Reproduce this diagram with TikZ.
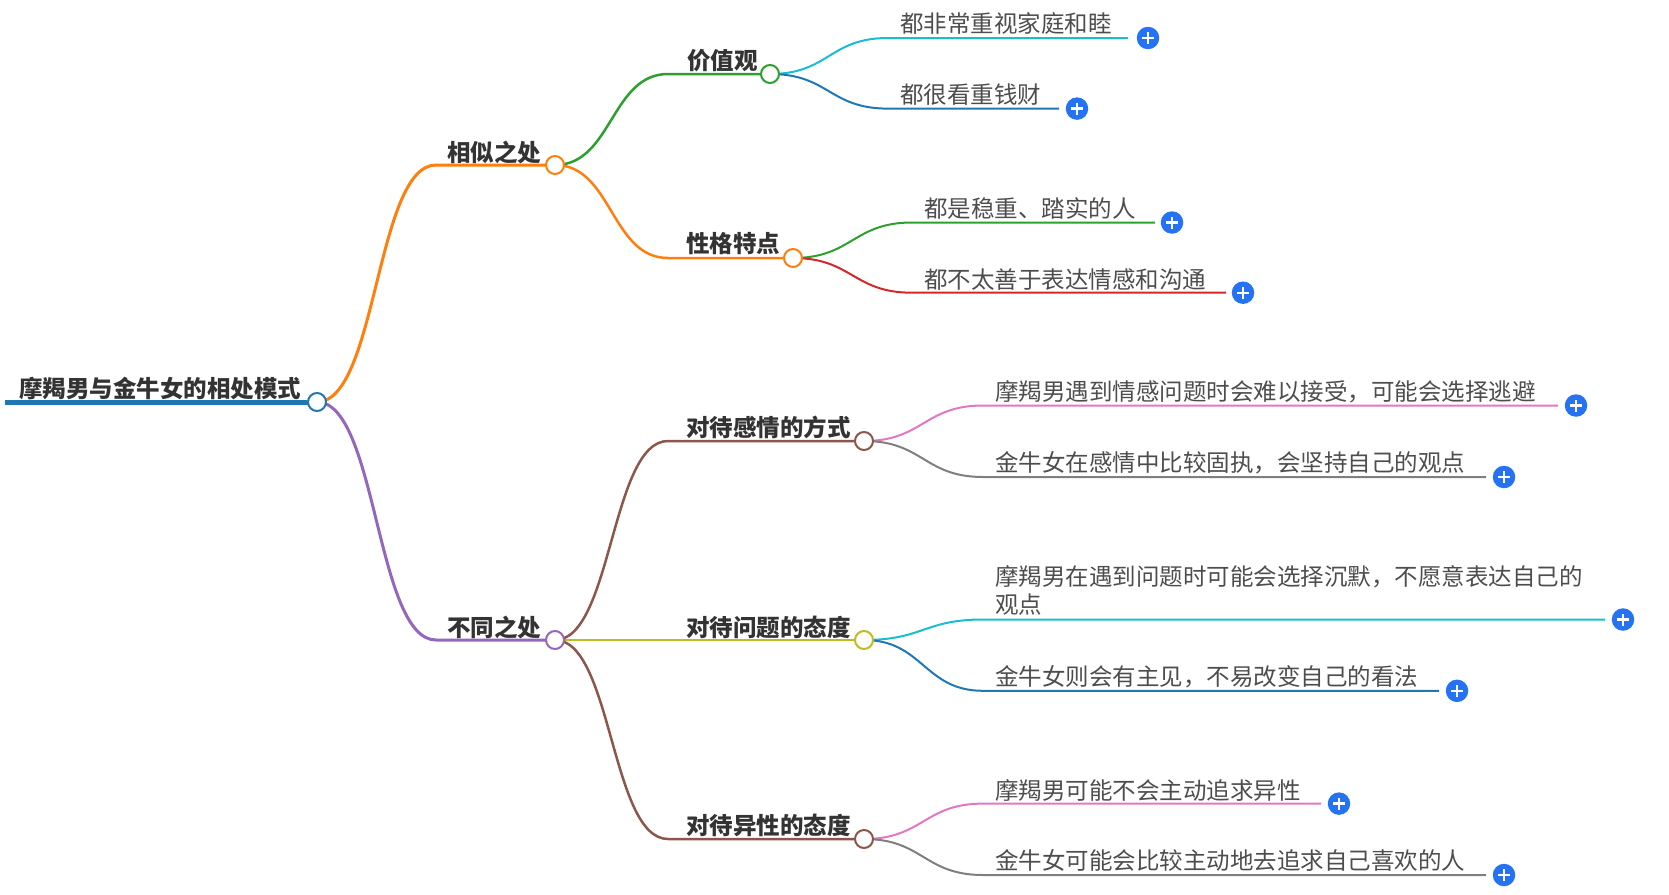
\documentclass[tikz,border=0pt]{standalone}
\usepackage{fontspec}
\setmainfont{Noto Sans CJK SC}
\usetikzlibrary{backgrounds}
\definecolor{tblue}{HTML}{1F77B4}
\definecolor{torange}{HTML}{FF7F0E}
\definecolor{tgreen}{HTML}{2CA02C}
\definecolor{tred}{HTML}{D62728}
\definecolor{tpurple}{HTML}{9467BD}
\definecolor{tbrown}{HTML}{8C564B}
\definecolor{tpink}{HTML}{E377C2}
\definecolor{tgray}{HTML}{7F7F7F}
\definecolor{tolive}{HTML}{BCBD22}
\definecolor{tcyan}{HTML}{17BECF}
\definecolor{plusblue}{HTML}{2573F2}
\definecolor{txtdark}{HTML}{333333}
\definecolor{txtgray}{HTML}{4D4D4D}
\begin{document}
\begin{tikzpicture}[x=1pt,y=-1pt,
  hub/.style={circle, draw=#1, fill=white, line width=2pt, minimum size=18pt, inner sep=0pt},
  tb/.style={anchor=west, inner sep=0pt, font=\fontsize{23.5}{28}\selectfont\bfseries, text=txtdark},
  tl/.style={anchor=west, inner sep=0pt, font=\fontsize{23.5}{28.6}\selectfont, text=txtgray, align=left},
  plusbtn/.style={circle, fill=plusblue, minimum size=22.5pt, inner sep=0pt,
    path picture={
      \draw[white, line width=2.4pt] ([xshift=-6pt]path picture bounding box.center) -- ([xshift=6pt]path picture bounding box.center);
      \draw[white, line width=2.4pt] ([yshift=-6pt]path picture bounding box.center) -- ([yshift=6pt]path picture bounding box.center);}},
  e0/.style={line width=5pt, draw=#1},
  e1/.style={line width=3pt, draw=#1},
  e2/.style={line width=2.5pt, draw=#1},
  e3/.style={line width=2pt, draw=#1},
]
\useasboundingbox (0,0) rectangle (1669,894);

% ---------- hub circles ----------
\node[hub=tblue] (rc) at (317,402) {};
\node[hub=torange] (ac) at (555,165) {};
\node[hub=tpurple] (bc) at (555,640) {};
\node[hub=tgreen] (aac) at (770,74) {};
\node[hub=torange] (abc) at (793,258) {};
\node[hub=tbrown] (bac) at (864,441) {};
\node[hub=tolive] (bbc) at (864,640) {};
\node[hub=tbrown] (bcc) at (864,839) {};

% ---------- root ----------
\coordinate (r0) at (5,402);
\node[tb] (rt) at (19,389) {摩羯男与金牛女的相处模式};

% ---------- level 1 ----------
\coordinate (a0) at (436,165);
\coordinate (b0) at (436,640);
\node[tb] (at) at (447,152) {相似之处};
\node[tb] (bt) at (447,627) {不同之处};

% ---------- level 2 ----------
\coordinate (aa0) at (668,74);
\coordinate (ab0) at (668,258);
\coordinate (ba0) at (668,441);
\coordinate (bc0) at (668,839);
\node[tb] (aat) at (687,61) {价值观};
\node[tb] (abt) at (686,244) {性格特点};
\node[tb] (bat) at (686,427) {对待感情的方式};
\node[tb] (bbt) at (686,627) {对待问题的态度};
\node[tb] (bct) at (686,825) {对待异性的态度};

% ---------- level 3 nodes ----------
\coordinate (l1s) at (888,38);
\coordinate (l1e) at (1128,38);
\node[tl] (l1t) at (900,23.5) {都非常重视家庭和睦};
\node[plusbtn] (l1p) at (1148,38) {};

\coordinate (l2s) at (888,108.6);
\coordinate (l2e) at (1059,108.6);
\node[tl] (l2t) at (900,95) {都很看重钱财};
\node[plusbtn] (l2p) at (1077,108.6) {};

\coordinate (l3s) at (912,222.5);
\coordinate (l3e) at (1155,222.5);
\node[tl] (l3t) at (924,208.6) {都是稳重、踏实的人};
\node[plusbtn] (l3p) at (1172,222.5) {};

\coordinate (l4s) at (912,292.7);
\coordinate (l4e) at (1226,292.7);
\node[tl] (l4t) at (924,280) {都不太善于表达情感和沟通};
\node[plusbtn] (l4p) at (1243,292.7) {};

\coordinate (l5s) at (983,405.5);
\coordinate (l5e) at (1558,405.5);
\node[tl] (l5t) at (995,391.7) {摩羯男遇到情感问题时会难以接受，可能会选择逃避};
\node[plusbtn] (l5p) at (1576,405.5) {};

\coordinate (l6s) at (983,477);
\coordinate (l6e) at (1486,477);
\node[tl] (l6t) at (995,463) {金牛女在感情中比较固执，会坚持自己的观点};
\node[plusbtn] (l6p) at (1504,477) {};

\coordinate (l7s) at (983,619.5);
\coordinate (l7e) at (1605,619.5);
\node[tl] (l7t) at (995,590.3) {摩羯男在遇到问题时可能会选择沉默，不愿意表达自己的\\观点};
\node[plusbtn] (l7p) at (1623,619.5) {};

\coordinate (l8s) at (983,690.8);
\coordinate (l8e) at (1439,690.8);
\node[tl] (l8t) at (995,677) {金牛女则会有主见，不易改变自己的看法};
\node[plusbtn] (l8p) at (1457,690.8) {};

\coordinate (l9s) at (983,803.6);
\coordinate (l9e) at (1321,803.6);
\node[tl] (l9t) at (995,790) {摩羯男可能不会主动追求异性};
\node[plusbtn] (l9p) at (1339,803.6) {};

\coordinate (l10s) at (983,875);
\coordinate (l10e) at (1486,875);
\node[tl] (l10t) at (995,860) {金牛女可能会比较主动地去追求自己喜欢的人};
\node[plusbtn] (l10p) at (1504,875) {};

\begin{pgfonlayer}{background}
% root -> level 1
\draw[e0=tblue] (r0) -- (rc.center);
\draw[e1=torange] (rc.center) .. controls +(60,0) and +(-60,0) .. (a0) -- (ac.center);
\draw[e1=tpurple] (rc.center) .. controls +(60,0) and +(-60,0) .. (b0) -- (bc.center);
% level 1 -> level 2
\draw[e2=tgreen] (ac.center) .. controls +(57,0) and +(-57,0) .. (aa0) -- (aac.center);
\draw[e2=torange] (ac.center) .. controls +(57,0) and +(-57,0) .. (ab0) -- (abc.center);
\draw[e2=tbrown] (bc.center) .. controls +(57,0) and +(-57,0) .. (ba0) -- (bac.center);
\draw[e2=tolive] (bc.center) -- (bbc.center);
\draw[e2=tbrown] (bc.center) .. controls +(57,0) and +(-57,0) .. (bc0) -- (bcc.center);
% level 2 -> level 3
\draw[e3=tcyan] (aac.center) .. controls +(59,0) and +(-59,0) .. (l1s) -- (l1e);
\draw[e3=tblue] (aac.center) .. controls +(59,0) and +(-59,0) .. (l2s) -- (l2e);
\draw[e3=tgreen] (abc.center) .. controls +(59,0) and +(-59,0) .. (l3s) -- (l3e);
\draw[e3=tred] (abc.center) .. controls +(59,0) and +(-59,0) .. (l4s) -- (l4e);
\draw[e3=tpink] (bac.center) .. controls +(59,0) and +(-59,0) .. (l5s) -- (l5e);
\draw[e3=tgray] (bac.center) .. controls +(59,0) and +(-59,0) .. (l6s) -- (l6e);
\draw[e3=tcyan] (bbc.center) .. controls +(59,0) and +(-59,0) .. (l7s) -- (l7e);
\draw[e3=tblue] (bbc.center) .. controls +(59,0) and +(-59,0) .. (l8s) -- (l8e);
\draw[e3=tpink] (bcc.center) .. controls +(59,0) and +(-59,0) .. (l9s) -- (l9e);
\draw[e3=tgray] (bcc.center) .. controls +(59,0) and +(-59,0) .. (l10s) -- (l10e);
\end{pgfonlayer}
\end{tikzpicture}
\end{document}
